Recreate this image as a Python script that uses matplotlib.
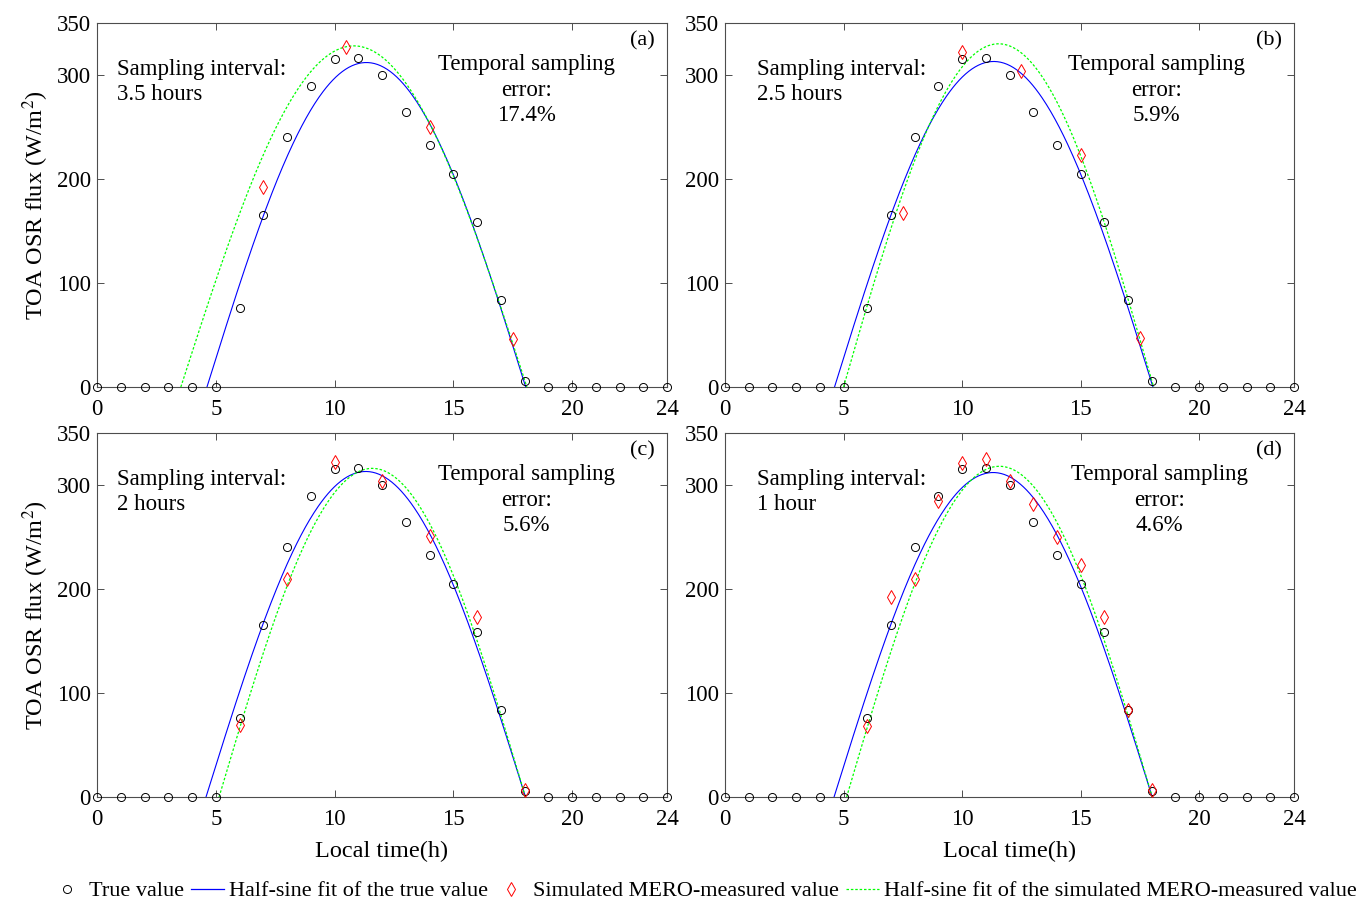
import numpy as np
import matplotlib
matplotlib.use("Agg")
import matplotlib.pyplot as plt
from matplotlib.lines import Line2D

plt.rcParams['font.family'] = ['Liberation Serif', 'DejaVu Serif']
plt.rcParams['mathtext.fontset'] = 'stix'

# ---------------- data ----------------
hours = list(range(0, 25))
true_values = [0, 0, 0, 0, 0, 0, 76, 165, 240, 289, 315, 316, 300, 264, 233, 205,
               159, 84, 6, 0, 0, 0, 0, 0, 0]

panel_labels = ['(a)', '(b)', '(c)', '(d)']
interval_texts = ['3.5 hours', '2.5 hours', '2 hours', '1 hour']
error_texts = ['17.4%', '5.9%', '5.6%', '4.6%']

sim_times_a = [7, 10.5, 14, 17.5]
sim_values_a = [192, 327, 250, 46]
sim_times_b = [7.5, 10, 12.5, 15, 17.5]
sim_values_b = [167, 322, 304, 223, 47]
sim_times_c = [6, 8, 10, 12, 14, 16, 18]
sim_values_c = [69, 210, 322, 304, 251, 173, 7]
sim_times_d = [6, 7, 8, 9, 10, 11, 12, 13, 14, 15, 16, 17, 18]
sim_values_d = [68, 192, 210, 285, 321, 325, 304, 282, 250, 223, 173, 84, 7]

# half-sine fit parameters (amplitude, start hour, end hour)
true_fit_amp = [312, 313, 313, 312]
true_fit_start = [4.63, 4.62, 4.59, 4.60]
true_fit_end = [18.05, 18.05, 18.04, 18.02]
sim_fit_amp = [328, 330, 316, 318]
sim_fit_start = [3.53, 5.00, 5.14, 5.13]
sim_fit_end = [18.10, 18.08, 18.04, 18.02]

sim_times = [sim_times_a, sim_times_b, sim_times_c, sim_times_d]
sim_values = [sim_values_a, sim_values_b, sim_values_c, sim_values_d]

x_ticks = [0, 5, 10, 15, 20, 24]
y_ticks = [0, 100, 200, 300, 350]

# ---------------- figure ----------------
W, H = 1361, 901
fig = plt.figure(figsize=(W / 100, H / 100), dpi=100)

def frac_rect(left, top, right, bottom):
    return [left / W, 1 - bottom / H, (right - left) / W, (bottom - top) / H]

rects = [frac_rect(97, 23, 667, 387), frac_rect(725, 23, 1294, 387),
         frac_rect(97, 433, 667, 797), frac_rect(725, 433, 1294, 797)]
sampling_x = [0.035, 0.056, 0.035, 0.056]
error_x = [0.754, 0.759, 0.754, 0.764]

axis_col = '#4d4d4d'
FS = 16
TFS = 16.5

def half_sine(a, t0, t1):
    t = np.linspace(t0, t1, 300)
    return t, a * np.sin(np.pi * (t - t0) / (t1 - t0))

for i in range(4):
    ax = fig.add_axes(rects[i])
    ax.set_xlim(0, 24)
    ax.set_ylim(0, 350)
    ax.set_xticks(x_ticks)
    ax.set_yticks(y_ticks)
    ax.tick_params(direction='in', top=True, right=True, length=5, width=0.7,
                   colors=axis_col, labelcolor='black', labelsize=TFS)
    ax.tick_params(axis='x', pad=8.5)
    ax.tick_params(axis='y', pad=4.5)
    for s in ax.spines.values():
        s.set_color(axis_col)
        s.set_linewidth(0.8)

    tx, ty = half_sine(true_fit_amp[i], true_fit_start[i], true_fit_end[i])
    ax.plot(tx, ty, color=(0, 0, 1), lw=0.8, zorder=3)
    sx, sy = half_sine(sim_fit_amp[i], sim_fit_start[i], sim_fit_end[i])
    ax.plot(sx, sy, color=(0, 1, 0), lw=0.9, ls=(0, (2, 1.5)), zorder=3)

    ax.plot(hours, true_values, ls='none', marker='o', ms=5.8, mfc='none',
            mec='black', mew=0.7, clip_on=False, zorder=4)
    ax.plot(sim_times[i], sim_values[i], ls='none', marker='d', ms=7.5, mfc='none',
            mec=(1, 0, 0), mew=0.7, clip_on=False, zorder=5)

    ax.text(sampling_x[i], 0.902, 'Sampling interval:\n' + interval_texts[i],
            transform=ax.transAxes, fontsize=FS + 0.5, ha='left', va='top',
            linespacing=1.26)
    ax.text(error_x[i], 0.914, 'Temporal sampling\nerror:\n' + error_texts[i],
            transform=ax.transAxes, fontsize=FS + 0.5, ha='center', va='top',
            linespacing=1.28)
    ax.text(0.979, 0.951, panel_labels[i], transform=ax.transAxes,
            fontsize=FS, ha='right', va='center')

    if i in (0, 2):
        ax.set_ylabel('TOA OSR flux (W/m$^2$)', fontsize=17.5, labelpad=4)
    if i in (2, 3):
        ax.set_xlabel('Local time(h)', fontsize=17.5, labelpad=8)

handles = [
    Line2D([], [], ls='none', marker='o', ms=5.8, mfc='none', mec='black', mew=0.7),
    Line2D([], [], color=(0, 0, 1), lw=0.9),
    Line2D([], [], ls='none', marker='d', ms=7.5, mfc='none', mec=(1, 0, 0), mew=0.7),
    Line2D([], [], color=(0, 1, 0), lw=0.9, ls=(0, (2, 1.5))),
]
labels = ['True value', 'Half-sine fit of the true value',
          'Simulated MERO-measured value',
          'Half-sine fit of the simulated MERO-measured value']
fig.legend(handles, labels, loc='center', bbox_to_anchor=(0.517, 0.011),
           ncol=4, frameon=False, fontsize=16, handlelength=1.49,
           handletextpad=0.225, columnspacing=0.32, borderpad=0.1,
           borderaxespad=0.1)

fig.savefig('out.png', dpi=100)
